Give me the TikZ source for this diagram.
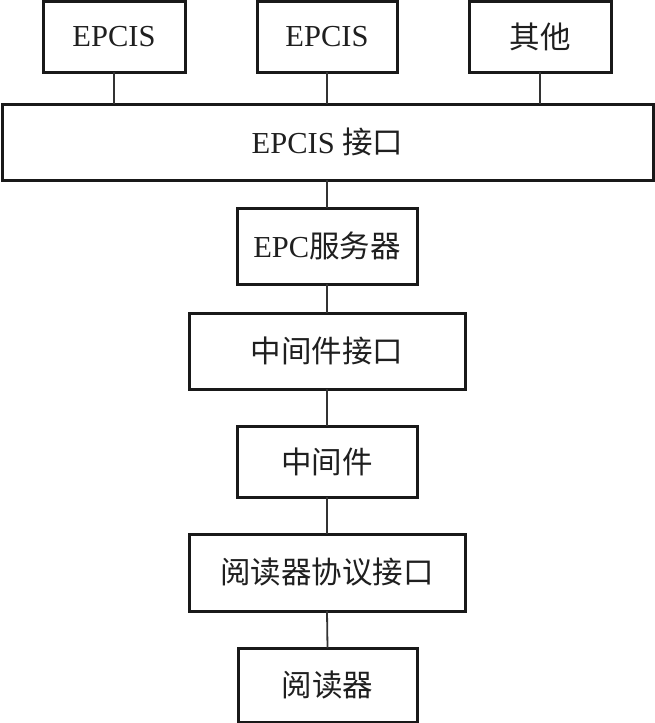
\documentclass[tikz,border=0pt]{standalone}
\usepackage{fontspec}
\setmainfont{Liberation Serif}
\newfontfamily\cjk{Noto Sans CJK SC}
\begin{document}
\begin{tikzpicture}[x=1pt,y=-1pt,
  box/.style={draw=black!90, line width=3pt, rectangle, inner sep=0pt, outer sep=0pt,
    font=\fontsize{30.5}{34}\selectfont, text=black!88},
  link/.style={draw=black!80, line width=1.8pt}]
\useasboundingbox (0,0) rectangle (655,723);
\node[box, minimum width=142pt, minimum height=71pt] (e1) at (114,36.5) {EPCIS};
\node[box, minimum width=140pt, minimum height=71pt] (e2) at (327,36.5) {EPCIS};
\node[box, minimum width=142pt, minimum height=71pt] (oth) at (540,36.5) {\cjk 其他};
\node[box, minimum width=651pt, minimum height=76pt] (ifc) at (327.5,142) {EPCIS {\cjk 接口}};
\node[box, minimum width=180pt, minimum height=76pt] (srv) at (327,246) {EPC{\cjk 服务器}};
\node[box, minimum width=276pt, minimum height=76pt] (mwi) at (327,351) {\cjk 中间件接口};
\node[box, minimum width=180pt, minimum height=71pt] (mw) at (327,461.5) {\cjk 中间件};
\node[box, minimum width=276pt, minimum height=77pt] (rpi) at (327,572.5) {\cjk 阅读器协议接口};
\node[box, minimum width=179pt, minimum height=74pt] (rd) at (327.5,685) {\cjk 阅读器};
\draw[link] (e1.south) -- (e1.south |- ifc.north);
\draw[link] (e2.south) -- (e2.south |- ifc.north);
\draw[link] (oth.south) -- (oth.south |- ifc.north);
\draw[link] (srv.north) -- (srv.north |- ifc.south);
\draw[link] (srv.south) -- (mwi.north);
\draw[link] (mwi.south) -- (mw.north);
\draw[link] (mw.south) -- (rpi.north);
\draw[link] (rpi.south) -- (rd.north);
\end{tikzpicture}
\end{document}
